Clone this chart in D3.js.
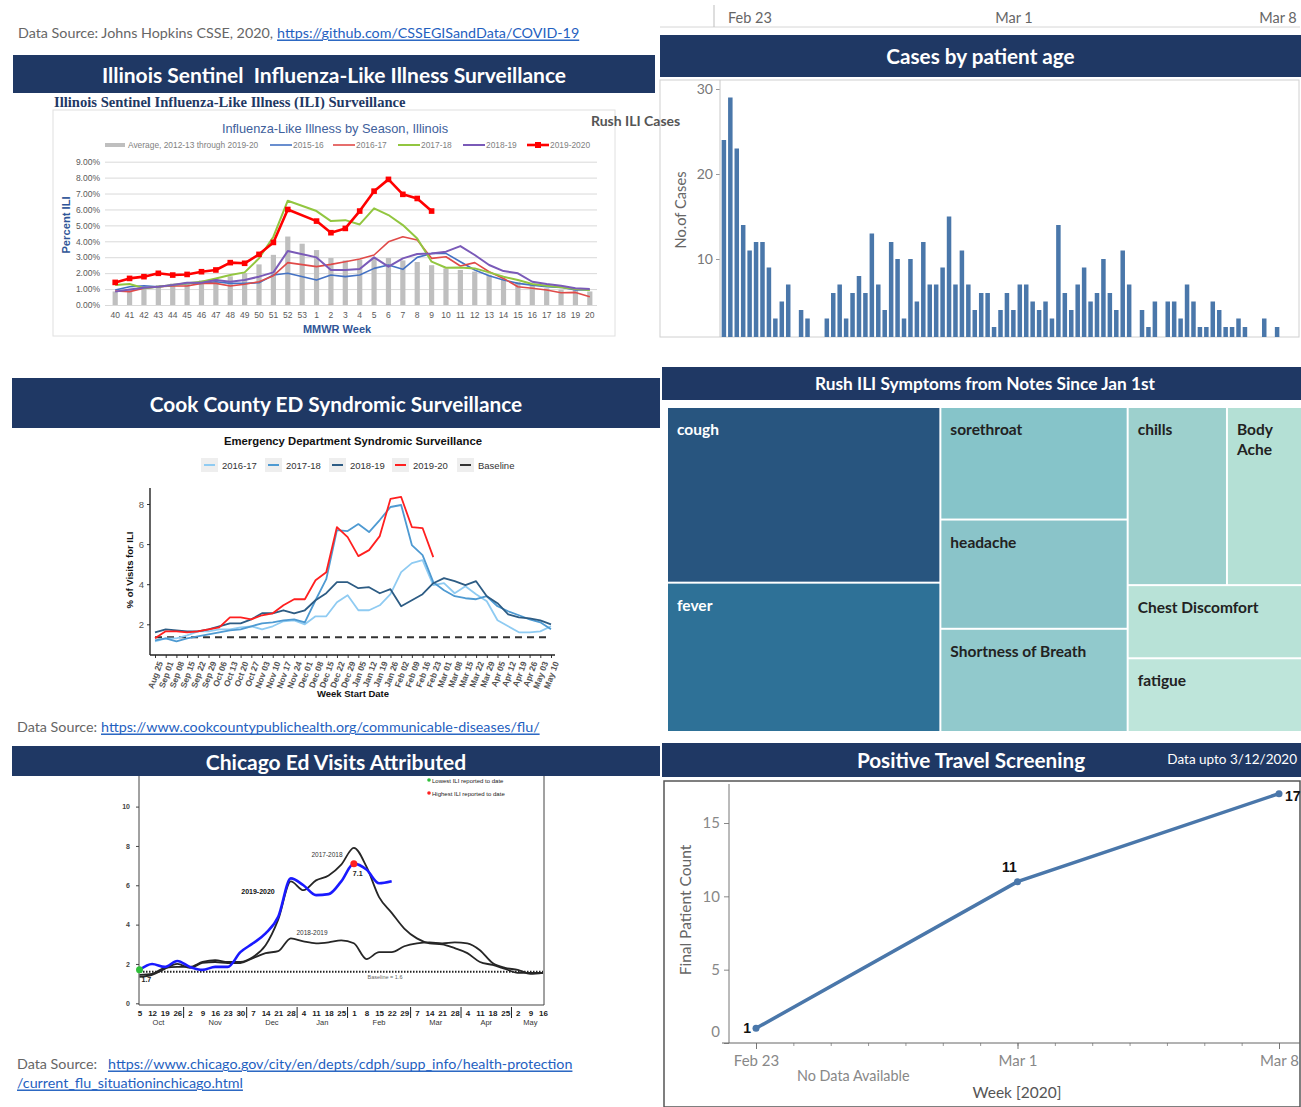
<!DOCTYPE html>
<html>
<head>
<meta charset="utf-8">
<script src="https://cdn.jsdelivr.net/npm/d3@7"></script>
<style>
  body { margin: 0; background: #fff; }
  svg { display: block; font-family: Lato, "Open Sans", sans-serif; }
</style>
</head>
<body>
<div id="dash"></div>
<script>
// ---- Illinois sentinel ILI (percent) by MMWR week ----
const iliWeeks = ["40","41","42","43","44","45","46","47","48","49","50","51","52","53",
  "1","2","3","4","5","6","7","8","9","10","11","12","13","14","15","16","17","18","19","20"];
const iliAverage = [0.85,0.95,1.15,1.25,1.35,1.45,1.55,1.65,1.8,2.0,2.55,3.15,4.3,3.85,
  3.45,2.95,2.8,2.85,2.9,2.95,2.8,2.7,2.5,2.3,2.2,2.1,1.9,1.65,1.45,1.25,1.05,0.95,0.95,0.85];
const ili1516 = [0.94,1.15,1.21,1.15,1.25,1.36,1.36,1.46,1.36,1.36,1.4,1.88,1.99,null,
  1.57,1.88,1.78,1.88,2.3,2.51,2.24,2.99,3.24,3.24,2.72,2.2,1.84,1.57,1.36,1.25,1.15,1.11,0.94,0.94];
const ili1617 = [0.88,0.84,1.05,1.15,1.19,1.19,1.36,1.36,1.19,1.3,1.46,1.84,2.66,null,
  2.41,2.55,2.72,2.89,3.14,3.97,4.29,4.08,2.93,3.03,2.45,2.66,2.09,1.67,1.15,1.05,0.94,0.77,0.79,0.52];
const ili1718 = [1.25,1.32,1.05,1.15,1.25,1.36,1.46,1.67,1.88,2.05,2.93,4.29,6.55,null,
  5.9,5.27,5.33,5.06,6.07,5.65,5.02,4.18,2.72,2.34,2.36,2.3,2.05,1.78,1.57,1.32,1.21,1.11,1.0,0.94];
const ili1819 = [0.84,0.98,1.09,1.15,1.25,1.4,1.4,1.57,1.46,1.57,1.78,2.05,3.39,null,
  2.99,2.2,2.2,2.26,2.99,2.41,2.93,3.2,3.24,3.35,3.7,3.14,2.51,2.13,1.99,1.46,1.32,1.21,1.05,1.0];
const ili1920 = [1.42,1.67,1.78,1.99,1.88,1.92,2.09,2.2,2.66,2.62,3.18,3.93,6.0,null,
  5.27,4.54,4.81,5.9,7.15,7.89,6.95,6.69,5.9,null,null,null,null,null,null,null,null,null,null,null];

// ---- Rush ILI cases by patient age ----
const rushCases = [24,29,23,14,11,12,12,9,3,5,7,0,4,3,0,0,3,6,7,3,6,8,6,13,7,4,12,10,3,10,5,12,7,7,9,15,7,11,7,4,6,
  6,2,4,6,4,7,7,5,4,5,3,14,6,4,7,9,5,6,10,6,4,11,7,0,4,2,5,0,5,5,3,7,5,2,2,5,4,2,2,3,2,0,0,3,0,2];
const rushTicks = [0, 10, 20, 30];
const stripDates = ["2020-02-23", "2020-03-01", "2020-03-08"];

// ---- Cook County ED syndromic surveillance (% of visits for ILI) ----
const edWeeks = ["Aug 25","Sep 01","Sep 08","Sep 15","Sep 22","Sep 29","Oct 06","Oct 13","Oct 20","Oct 27",
  "Nov 03","Nov 10","Nov 17","Nov 24","Dec 01","Dec 08","Dec 15","Dec 22","Dec 29","Jan 05","Jan 12",
  "Jan 19","Jan 26","Feb 02","Feb 09","Feb 16","Feb 23","Mar 01","Mar 08","Mar 15","Mar 22","Mar 29",
  "Apr 05","Apr 12","Apr 19","Apr 26","May 03","May 10"];
const ed1617 = [1.15,1.3,1.3,1.45,1.65,1.65,1.75,1.75,1.85,1.9,1.75,1.9,2.15,2.2,2.0,2.4,2.4,3.1,3.45,2.7,2.7,
  2.95,3.5,4.6,5.05,5.2,3.95,4.05,3.55,3.9,3.5,3.15,2.2,1.9,1.6,1.6,1.65,1.9];
const ed1718 = [1.2,1.3,1.15,1.3,1.4,1.5,1.6,1.7,1.75,1.9,2.05,2.1,2.2,2.25,2.1,3.2,4.25,6.7,6.65,7.0,6.6,
  7.2,7.85,7.95,5.95,5.45,4.1,3.7,3.4,3.3,3.25,3.4,2.9,2.65,2.45,2.25,2.1,1.75];
const ed1819 = [1.6,1.75,1.7,1.65,1.65,1.75,1.9,2.05,2.05,2.25,2.55,2.55,2.7,2.55,2.7,3.2,3.55,4.1,4.1,3.8,3.85,
  3.55,3.75,2.9,3.2,3.5,4.05,4.3,4.15,3.95,4.15,3.4,3.05,2.5,2.35,2.3,2.2,2.0];
const ed1920 = [1.3,1.65,1.65,1.6,1.65,1.75,1.85,2.35,2.35,2.25,2.45,2.55,2.95,3.25,3.25,4.2,4.6,6.85,6.35,5.4,5.7,
  6.4,8.25,8.35,6.85,6.8,5.35];
const edBaseline = 1.35;
const edTicks = [2, 4, 6, 8];

// ---- Chicago ED visits attributed to ILI ----
const chiDays = [5,12,19,26,2,9,16,23,30,7,14,21,28,4,11,18,25,1,8,15,22,29,7,14,21,28,4,11,18,25,2,9,16];
const chiMonths = ["Oct","Nov","Dec","Jan","Feb","Mar","Apr","May"];
const chiWeeksPerMonth = [4,5,4,4,5,4,4,3];
const chi1718 = [1.45,1.5,1.8,1.85,1.85,2.1,2.2,2.1,2.1,2.35,2.95,4.25,6.2,5.75,6.25,6.5,7.05,7.9,6.95,5.4,4.6,
  3.8,3.3,3.05,3.0,2.8,2.55,2.1,1.95,1.75,1.55,1.55,1.55];
const chi1819 = [1.35,1.45,1.75,2.0,1.8,2.05,2.1,2.05,2.05,2.3,2.55,2.65,3.3,3.15,3.05,3.1,3.2,3.05,2.25,2.6,2.6,
  2.9,3.05,3.1,3.05,3.1,3.05,2.7,2.05,1.8,1.7,1.5,1.55];
const chi1920 = [1.7,2.0,1.85,2.15,1.85,1.7,1.85,1.85,2.6,3.05,3.55,4.4,6.35,6.0,5.5,5.55,6.2,7.1,6.8,6.1,6.2];
const chiBaseline = 1.6;
const chiTicks = [0, 2, 4, 6, 8, 10];

// ---- Rush ILI symptoms ----
const symptomNames = ["cough","fever","sorethroat","headache","Shortness of Breath","chills","Body Ache","Chest Discomfort","fatigue"];
const symptomCounts = [467, 397, 205, 199, 188, 172, 130, 124, 125];
const symptomGroups = [["cough","fever"], ["sorethroat","headache","Shortness of Breath"], [["chills","Body Ache"],"Chest Discomfort","fatigue"]];

// ---- Positive travel screening ----
const travelWeeks = ["2020-02-23", "2020-03-01", "2020-03-08"];
const travelCounts = [1, 11, 17];
const travelTicks = [0, 5, 10, 15];

const NAVY = '#1f3864';
const W = 1301, H = 1107;
const parseDay = d3.timeParse('%Y-%m-%d');

const svg = d3.select('#dash').append('svg').attr('width', W).attr('height', H);
svg.append('rect').attr('width', W).attr('height', H).attr('fill', '#fff');

function header(x, y, w, h, label, size, cx) {
    svg.append('rect').attr('x', x).attr('y', y).attr('width', w).attr('height', h).attr('fill', NAVY);
    svg.append('text')
        .attr('x', cx || x + w / 2)
        .attr('y', y + h / 2)
        .attr('text-anchor', 'middle')
        .attr('dominant-baseline', 'central')
        .attr('fill', '#fff')
        .style('white-space', 'pre')
        .style('font-weight', 700)
        .style('font-size', size + 'px')
        .text(label);
}

// prefix text, then the underlined link; link starts at linkX or right after the prefix
function source(x, y, prefix, link, linkX) {
    let lx = linkX;
    if (prefix) {
        const t = svg.append('text').attr('x', x).attr('y', y).attr('dominant-baseline', 'central')
            .attr('fill', '#666').style('font-size', '14.3px').text(prefix);
        if (lx == null) lx = x + t.node().getComputedTextLength() + 4;
    }
    svg.append('text').attr('x', lx).attr('y', y).attr('dominant-baseline', 'central')
        .attr('fill', '#1f5fbf').style('font-size', '14.3px').style('text-decoration', 'underline').text(link);
}

function cleanAxis(g) {
    g.attr('font-family', null).attr('font-size', null);
}

// ================= top-left: Illinois Sentinel =================
source(18, 32, 'Data Source: Johns Hopkins CSSE, 2020,', 'https://github.com/CSSEGISandData/COVID-19', null);
header(13, 55, 642, 38, 'Illinois Sentinel  Influenza-Like Illness Surveillance', 21);

svg.append('text').attr('x', 54).attr('y', 102).attr('dominant-baseline', 'central')
    .attr('fill', NAVY).style('font-family', '"Liberation Serif", serif').style('font-weight', 700)
    .style('font-size', '14.6px').text('Illinois Sentinel Influenza-Like Illness (ILI) Surveillance');

const ili = svg.append('g').style('font-family', '"Liberation Sans", Arial, sans-serif');
ili.append('rect').attr('x', 53).attr('y', 110).attr('width', 562).attr('height', 226)
    .attr('fill', '#fff').attr('stroke', '#e0e0e0');

const iliX = d3.scaleBand().domain(iliWeeks).range([108, 597]);
const iliY = d3.scaleLinear().domain([0, 9]).range([305, 161.7]);
const iliMid = w => iliX(w) + iliX.bandwidth() / 2;

ili.append('g').attr('transform', 'translate(105,0)')
    .call(d3.axisLeft(iliY).tickValues(d3.range(0, 10)).tickSize(-492).tickPadding(5).tickFormat(d => d.toFixed(2) + '%'))
    .call(cleanAxis)
    .call(g => g.select('.domain').remove())
    .call(g => g.selectAll('line').attr('stroke', '#d9d9d9'))
    .call(g => g.selectAll('text').attr('fill', '#595959').style('font-size', '8.5px'));

ili.append('g').attr('transform', 'translate(0,305)')
    .call(d3.axisBottom(iliX).tickSize(0).tickPadding(7))
    .call(cleanAxis)
    .call(g => g.select('.domain').remove())
    .call(g => g.selectAll('text').attr('fill', '#595959').style('font-size', '8.5px'));

ili.selectAll('.avg-bar')
    .data(iliWeeks.map((w, i) => ({w: w, v: iliAverage[i]})))
    .join('rect')
    .attr('class', 'avg-bar')
    .attr('x', d => iliMid(d.w) - 2.6)
    .attr('width', 5.2)
    .attr('y', d => iliY(d.v))
    .attr('height', d => iliY(0) - iliY(d.v))
    .attr('fill', '#bfbfbf');

const iliSeries = [
    {name: '2015-16', values: ili1516, color: '#4472c4', width: 1.6},
    {name: '2016-17', values: ili1617, color: '#e04a48', width: 1.6},
    {name: '2017-18', values: ili1718, color: '#92c640', width: 2},
    {name: '2018-19', values: ili1819, color: '#7a5ab8', width: 2},
    {name: '2019-2020', values: ili1920, color: '#ff0000', width: 2.6, marker: true}
];
const iliLine = d3.line().x(d => iliMid(d.w)).y(d => iliY(d.v));

iliSeries.forEach(s => {
    const pts = iliWeeks.map((w, i) => ({w: w, v: s.values[i]})).filter(d => d.v != null);
    ili.append('path').datum(pts).attr('d', iliLine)
        .attr('fill', 'none').attr('stroke', s.color).attr('stroke-width', s.width).attr('stroke-linejoin', 'round');
    if (s.marker) {
        ili.selectAll(null).data(pts).join('rect')
            .attr('x', d => iliMid(d.w) - 2.8).attr('y', d => iliY(d.v) - 2.8)
            .attr('width', 5.6).attr('height', 5.6).attr('fill', s.color);
    }
});

ili.append('text').attr('x', 335).attr('y', 128).attr('text-anchor', 'middle').attr('dominant-baseline', 'central')
    .attr('fill', '#40609c').style('font-size', '12.8px').text('Influenza-Like Illness by Season, Illinois');

// legend
const iliLegend = [
    {label: 'Average, 2012-13 through 2019-20', x: 105, bar: true},
    {label: '2015-16', x: 270, s: iliSeries[0]},
    {label: '2016-17', x: 333, s: iliSeries[1]},
    {label: '2017-18', x: 398, s: iliSeries[2]},
    {label: '2018-19', x: 463, s: iliSeries[3]},
    {label: '2019-2020', x: 527, s: iliSeries[4]}
];
iliLegend.forEach(d => {
    if (d.bar) {
        ili.append('rect').attr('x', d.x).attr('y', 143).attr('width', 20).attr('height', 4).attr('fill', '#bfbfbf');
    } else {
        ili.append('line').attr('x1', d.x).attr('x2', d.x + 22).attr('y1', 145).attr('y2', 145)
            .attr('stroke', d.s.color).attr('stroke-width', d.s.width);
        if (d.s.marker) {
            ili.append('rect').attr('x', d.x + 8).attr('y', 142).attr('width', 6).attr('height', 6).attr('fill', d.s.color);
        }
    }
    ili.append('text').attr('x', d.x + 23).attr('y', 145).attr('dominant-baseline', 'central')
        .attr('fill', '#7f7f7f').style('font-size', '8.4px').text(d.label);
});

ili.append('text').attr('transform', 'translate(66,225) rotate(-90)').attr('text-anchor', 'middle')
    .attr('dominant-baseline', 'central').attr('fill', '#2f5597').style('font-weight', 700)
    .style('font-size', '11.2px').text('Percent ILI');
ili.append('text').attr('x', 337).attr('y', 329).attr('text-anchor', 'middle').attr('dominant-baseline', 'central')
    .attr('fill', '#2f5597').style('font-weight', 700).style('font-size', '11px').text('MMWR Week');

// ================= top-right: cases by patient age =================
const strip = svg.append('g');
strip.append('line').attr('x1', 660).attr('x2', 1300).attr('y1', 27).attr('y2', 27).attr('stroke', '#d6d6d6');
strip.append('line').attr('x1', 714).attr('x2', 714).attr('y1', 5).attr('y2', 27).attr('stroke', '#bdbdbd');
const stripX = d3.scaleTime().domain([parseDay(stripDates[0]), parseDay(stripDates[2])]).range([750, 1278]);
strip.selectAll('text').data(stripDates).join('text')
    .attr('x', d => stripX(parseDay(d)))
    .attr('y', 17)
    .attr('text-anchor', 'middle')
    .attr('dominant-baseline', 'central')
    .attr('fill', '#666')
    .style('font-size', '14.5px')
    .text(d => d3.timeFormat('%b %-d')(parseDay(d)));

header(660, 35, 641, 42, 'Cases by patient age', 20.7);

const rush = svg.append('g');
rush.append('rect').attr('x', 660).attr('y', 80).attr('width', 639).attr('height', 257)
    .attr('fill', '#fff').attr('stroke', '#d0d0d0');
svg.append('defs').append('clipPath').attr('id', 'rush-clip')
    .append('rect').attr('x', 660).attr('y', 80).attr('width', 640).attr('height', 257);
const rushBody = rush.append('g').attr('clip-path', 'url(#rush-clip)');

const rushX = d3.scaleBand().domain(d3.range(rushCases.length)).range([721, 1280]).paddingInner(0.3).paddingOuter(0.1);
const rushY = d3.scaleLinear().domain([0, 30]).range([344, 89]);

rushBody.append('g').attr('transform', 'translate(720,0)')
    .call(d3.axisLeft(rushY).tickValues(rushTicks).tickSize(4).tickPadding(3))
    .call(cleanAxis)
    .call(g => g.select('.domain').remove())
    .call(g => g.selectAll('line').attr('stroke', '#999'))
    .call(g => g.selectAll('text').attr('fill', '#777').style('font-size', '14px'));
rushBody.append('line').attr('x1', 720).attr('x2', 720).attr('y1', 80).attr('y2', 337).attr('stroke', '#c8c8c8');

rushBody.selectAll('.case-bar')
    .data(rushCases)
    .join('rect')
    .attr('class', 'case-bar')
    .attr('x', (d, i) => rushX(i))
    .attr('width', rushX.bandwidth())
    .attr('y', d => rushY(d))
    .attr('height', d => rushY(0) - rushY(d))
    .attr('fill', '#4a77aa');

rush.append('text').attr('transform', 'translate(680,210) rotate(-90)').attr('text-anchor', 'middle')
    .attr('dominant-baseline', 'central').attr('fill', '#666').style('font-size', '14.7px').text('No.of Cases');

svg.append('text').attr('x', 591).attr('y', 120).attr('dominant-baseline', 'central')
    .attr('fill', '#555').style('font-weight', 700).style('font-size', '14px').text('Rush ILI Cases');

// ================= middle-left: Cook County =================
header(12, 378, 648, 50, 'Cook County ED Syndromic Surveillance', 20.8);

const cook = svg.append('g').style('font-family', '"Liberation Sans", Arial, sans-serif');
const edX = d3.scalePoint().domain(edWeeks).range([155, 551]);
const edY = d3.scaleLinear().domain([2, 8]).range([624.3, 504]);

cook.append('text').attr('x', 353).attr('y', 441).attr('text-anchor', 'middle').attr('dominant-baseline', 'central')
    .attr('fill', '#111').style('font-weight', 700).style('font-size', '11.3px').text('Emergency Department Syndromic Surveillance');

const edSeries = [
    {name: '2016-17', values: ed1617, color: '#8fcbf2'},
    {name: '2017-18', values: ed1718, color: '#4e9ad2'},
    {name: '2018-19', values: ed1819, color: '#2d5c84'},
    {name: '2019-20', values: ed1920, color: '#ff1f1f'}
];

cook.append('g').attr('transform', 'translate(150,0)')
    .call(d3.axisLeft(edY).tickValues(edTicks).tickSize(3).tickPadding(3).tickFormat(d3.format('d')))
    .call(cleanAxis)
    .call(g => g.select('.domain').remove())
    .call(g => g.selectAll('line').attr('stroke', '#333'))
    .call(g => g.selectAll('text').attr('fill', '#555').style('font-size', '9.5px'));

cook.append('g').attr('transform', 'translate(0,655)')
    .call(d3.axisBottom(edX).tickSize(3).tickPadding(2))
    .call(cleanAxis)
    .call(g => g.select('.domain').remove())
    .call(g => g.selectAll('line').attr('stroke', '#333'))
    .call(g => g.selectAll('text')
        .attr('fill', '#555').style('font-size', '8.5px').style('font-weight', 700)
        .attr('text-anchor', 'end').attr('dy', '0.35em')
        .attr('transform', 'translate(0,5) rotate(-70)'));

cook.append('line').attr('x1', 150).attr('x2', 150).attr('y1', 488).attr('y2', 655).attr('stroke', '#222').attr('stroke-width', 1.4);
cook.append('line').attr('x1', 150).attr('x2', 555).attr('y1', 655).attr('y2', 655).attr('stroke', '#222').attr('stroke-width', 1.4);

cook.append('line').attr('x1', edX(edWeeks[0])).attr('x2', edX(edWeeks[edWeeks.length - 1]))
    .attr('y1', edY(edBaseline)).attr('y2', edY(edBaseline))
    .attr('stroke', '#333').attr('stroke-width', 2).attr('stroke-dasharray', '7,5');

const edLine = d3.line().x(d => edX(d.w)).y(d => edY(d.v));
edSeries.forEach(s => {
    cook.append('path').datum(s.values.map((v, i) => ({w: edWeeks[i], v: v})))
        .attr('d', edLine).attr('fill', 'none').attr('stroke', s.color).attr('stroke-width', 1.8)
        .attr('stroke-linejoin', 'round');
});

const edLegend = edSeries.map(s => ({label: s.name, color: s.color}))
    .concat([{label: 'Baseline', color: '#333'}]);
const edLegendX = [202, 266, 330, 393, 458];
edLegend.forEach((d, i) => {
    const x = edLegendX[i];
    cook.append('rect').attr('x', x - 1).attr('y', 458).attr('width', 17).attr('height', 14).attr('fill', '#eeeeee');
    cook.append('line').attr('x1', x + 2).attr('x2', x + 13).attr('y1', 465).attr('y2', 465)
        .attr('stroke', d.color).attr('stroke-width', 2);
    cook.append('text').attr('x', x + 20).attr('y', 465).attr('dominant-baseline', 'central')
        .attr('fill', '#333').style('font-size', '9.5px').text(d.label);
});

cook.append('text').attr('transform', 'translate(129,570) rotate(-90)').attr('text-anchor', 'middle')
    .attr('dominant-baseline', 'central').attr('fill', '#111').style('font-weight', 700)
    .style('font-size', '9.5px').text('% of Visits for ILI');
cook.append('text').attr('x', 353).attr('y', 693).attr('text-anchor', 'middle').attr('dominant-baseline', 'central')
    .attr('fill', '#111').style('font-weight', 700).style('font-size', '9.5px').text('Week Start Date');

source(17, 726, 'Data Source: ', 'https://www.cookcountypublichealth.org/communicable-diseases/flu/', 101);

// ================= bottom-left: Chicago =================
header(12, 746, 648, 30, 'Chicago Ed Visits Attributed', 21);

const chi = svg.append('g').style('font-family', '"Liberation Sans", Arial, sans-serif');
const chiX = d3.scalePoint().domain(d3.range(chiDays.length)).range([139.5, 543]);
const chiY = d3.scaleLinear().domain([0, 10]).range([1003.3, 806.6]);

chi.append('line').attr('x1', 139).attr('x2', 139).attr('y1', 776).attr('y2', 1005).attr('stroke', '#444');
chi.append('line').attr('x1', 544).attr('x2', 544).attr('y1', 776).attr('y2', 1005).attr('stroke', '#444');
chi.append('line').attr('x1', 139).attr('x2', 544).attr('y1', 1005).attr('y2', 1005).attr('stroke', '#444');

chi.append('g').attr('transform', 'translate(139,0)')
    .call(d3.axisLeft(chiY).tickValues(chiTicks).tickSize(3).tickPadding(6))
    .call(cleanAxis)
    .call(g => g.select('.domain').remove())
    .call(g => g.selectAll('line').attr('stroke', '#444'))
    .call(g => g.selectAll('text').attr('fill', '#444').style('font-size', '7px').style('font-weight', 700));

chi.append('g').attr('transform', 'translate(0,1005)')
    .call(d3.axisBottom(chiX).tickSize(0).tickPadding(5).tickFormat(i => chiDays[i]))
    .call(cleanAxis)
    .call(g => g.select('.domain').remove())
    .call(g => g.selectAll('text').attr('fill', '#222').style('font-size', '8px').style('font-weight', 700));

let startIdx = 0;
chiMonths.forEach((m, k) => {
    const n = chiWeeksPerMonth[k];
    const cx = (chiX(startIdx) + chiX(startIdx + n - 1)) / 2;
    chi.append('text').attr('x', cx).attr('y', 1022).attr('text-anchor', 'middle').attr('dominant-baseline', 'central')
        .attr('fill', '#333').style('font-size', '7.5px').text(m);
    if (k > 0) {
        const sx = (chiX(startIdx - 1) + chiX(startIdx)) / 2;
        chi.append('line').attr('x1', sx).attr('x2', sx).attr('y1', 1007).attr('y2', 1018).attr('stroke', '#222');
    }
    startIdx += n;
});

chi.append('line').attr('x1', 140).attr('x2', 543).attr('y1', chiY(chiBaseline)).attr('y2', chiY(chiBaseline))
    .attr('stroke', '#222').attr('stroke-width', 2).attr('stroke-dasharray', '1.5,1.5');
chi.append('text').attr('x', 385).attr('y', chiY(chiBaseline) + 7).attr('text-anchor', 'middle')
    .attr('fill', '#666').style('font-size', '5.5px').text('Baseline = 1.6');

const chiLine = d3.line().x(d => chiX(d.i)).y(d => chiY(d.v)).curve(d3.curveMonotoneX);
[{values: chi1718, color: '#262626', width: 1.8},
 {values: chi1819, color: '#262626', width: 1.8},
 {values: chi1920, color: '#1a1aff', width: 2.6}].forEach(s => {
    chi.append('path').datum(s.values.map((v, i) => ({i: i, v: v})))
        .attr('d', chiLine).attr('fill', 'none').attr('stroke', s.color).attr('stroke-width', s.width);
});

const lowIdx = d3.minIndex(chi1920);
const highIdx = d3.maxIndex(chi1920);
chi.append('circle').attr('cx', chiX(lowIdx)).attr('cy', chiY(chi1920[lowIdx])).attr('r', 3.5).attr('fill', '#2fbf3a');
chi.append('circle').attr('cx', chiX(highIdx)).attr('cy', chiY(chi1920[highIdx])).attr('r', 3.5).attr('fill', '#ff2020');
chi.append('text').attr('x', chiX(lowIdx) + 2).attr('y', chiY(chi1920[lowIdx]) + 12).attr('fill', '#222')
    .style('font-size', '7px').style('font-weight', 700).text(chi1920[lowIdx].toFixed(1));
chi.append('text').attr('x', chiX(highIdx) - 1).attr('y', chiY(chi1920[highIdx]) + 12).attr('fill', '#222')
    .style('font-size', '7px').style('font-weight', 700).text(chi1920[highIdx].toFixed(1));

chi.append('text').attr('x', 327).attr('y', 857).attr('text-anchor', 'middle').attr('fill', '#333')
    .style('font-size', '6.5px').text('2017-2018');
chi.append('text').attr('x', 258).attr('y', 894).attr('text-anchor', 'middle').attr('fill', '#111')
    .style('font-size', '7px').style('font-weight', 700).text('2019-2020');
chi.append('text').attr('x', 312).attr('y', 935).attr('text-anchor', 'middle').attr('fill', '#333')
    .style('font-size', '6.5px').text('2018-2019');

chi.append('circle').attr('cx', 429).attr('cy', 780).attr('r', 1.8).attr('fill', '#2fbf3a');
chi.append('text').attr('x', 432).attr('y', 783).attr('fill', '#222').style('font-size', '6px').text('Lowest ILI reported to date');
chi.append('circle').attr('cx', 429).attr('cy', 793).attr('r', 1.8).attr('fill', '#ff2020');
chi.append('text').attr('x', 432).attr('y', 796).attr('fill', '#222').style('font-size', '6px').text('Highest ILI reported to date');

source(17, 1063, 'Data Source:', 'https://www.chicago.gov/city/en/depts/cdph/supp_info/health-protection', 108);
source(17, 1082, null, '/current_flu_situationinchicago.html', 17);

// ================= middle-right: symptom treemap =================
header(662, 367, 639, 33, 'Rush ILI Symptoms from Notes Since Jan 1st', 17.3, 985);

const symptomColors = {
    'cough': '#28557f', 'fever': '#2e7197', 'sorethroat': '#86c4c9', 'headache': '#8ac4c9',
    'Shortness of Breath': '#91c9cc', 'chills': '#9dd0cd', 'Body Ache': '#b4e0d5',
    'Chest Discomfort': '#b8e2d7', 'fatigue': '#bee5da'
};
const countOf = name => symptomCounts[symptomNames.indexOf(name)];
const toNode = item => Array.isArray(item)
    ? {name: 'group', children: item.map(toNode)}
    : {name: item, value: countOf(item)};

const symptomRoot = d3.hierarchy({name: 'root', children: symptomGroups.map(toNode)}).sum(d => d.value || 0);
d3.treemap()
    .size([633, 323])
    .paddingInner(2)
    .tile((node, x0, y0, x1, y1) => node.depth % 2 === 0
        ? d3.treemapDice(node, x0, y0, x1, y1)
        : d3.treemapSlice(node, x0, y0, x1, y1))(symptomRoot);

const tree = svg.append('g').attr('transform', 'translate(668,408)');
const leaves = tree.selectAll('g').data(symptomRoot.leaves()).join('g')
    .attr('transform', d => `translate(${d.x0},${d.y0})`);
leaves.append('rect')
    .attr('width', d => d.x1 - d.x0)
    .attr('height', d => d.y1 - d.y0)
    .attr('fill', d => symptomColors[d.data.name]);
leaves.each(function(d) {
    const words = (d.x1 - d.x0) < 90 ? d.data.name.split(' ') : [d.data.name];
    const dark = d.data.name === 'cough' || d.data.name === 'fever';
    d3.select(this).append('text')
        .attr('fill', dark ? '#fff' : '#222')
        .style('font-weight', 700)
        .style('font-size', '15.5px')
        .selectAll('tspan').data(words).join('tspan')
        .attr('x', 9)
        .attr('y', (w, i) => 21 + i * 20)
        .attr('dominant-baseline', 'central')
        .text(w => w);
});

// ================= bottom-right: positive travel screening =================
header(662, 743, 639, 34, 'Positive Travel Screening', 20.7, 971);
svg.append('text').attr('x', 1297).attr('y', 759).attr('text-anchor', 'end').attr('dominant-baseline', 'central')
    .attr('fill', '#fff').style('font-size', '13.5px').text('Data upto 3/12/2020');

const travel = svg.append('g');
travel.append('rect').attr('x', 664).attr('y', 781).attr('width', 636).attr('height', 326)
    .attr('fill', '#fff').attr('stroke', '#555').attr('stroke-width', 1.5);

const travelX = d3.scaleTime().domain([parseDay(travelWeeks[0]), parseDay(travelWeeks[2])]).range([756, 1279]);
const travelY = d3.scaleLinear().domain([0, 15]).range([1043, 823]);

travel.append('g').attr('transform', 'translate(729,0)')
    .call(d3.axisLeft(travelY).tickValues(travelTicks).tickSize(5).tickPadding(4))
    .call(cleanAxis)
    .call(g => g.select('.domain').remove())
    .call(g => g.selectAll('line').attr('stroke', '#888'))
    .call(g => g.selectAll('text').attr('fill', '#888').style('font-size', '15px'))
    .call(g => g.selectAll('.tick').filter(d => d === 0).select('text').attr('dy', '-0.45em'));
travel.append('line').attr('x1', 729).attr('x2', 729).attr('y1', 784).attr('y2', 1043).attr('stroke', '#777');

travel.append('g').attr('transform', 'translate(0,1043)')
    .call(d3.axisBottom(travelX).ticks(d3.timeDay.every(1)).tickSize(3).tickFormat(''))
    .call(cleanAxis)
    .call(g => g.select('.domain').remove())
    .call(g => g.selectAll('line').attr('stroke', '#999'));
travel.append('g').attr('transform', 'translate(0,1043)')
    .call(d3.axisBottom(travelX).tickValues(travelWeeks.map(parseDay)).tickSize(6).tickPadding(6)
        .tickFormat(d3.timeFormat('%b %-d')))
    .call(cleanAxis)
    .call(g => g.select('.domain').remove())
    .call(g => g.selectAll('line').attr('stroke', '#777'))
    .call(g => g.selectAll('text').attr('fill', '#888').style('font-size', '15px'));
travel.append('line').attr('x1', 722).attr('x2', 1300).attr('y1', 1043).attr('y2', 1043).attr('stroke', '#666');

const travelPts = travelWeeks.map((w, i) => ({t: parseDay(w), v: travelCounts[i]}));
travel.append('path').datum(travelPts)
    .attr('d', d3.line().x(d => travelX(d.t)).y(d => travelY(d.v)))
    .attr('fill', 'none').attr('stroke', '#4a77aa').attr('stroke-width', 3.5);
travel.selectAll('circle').data(travelPts).join('circle')
    .attr('cx', d => travelX(d.t)).attr('cy', d => travelY(d.v)).attr('r', 3.5).attr('fill', '#4a77aa');

const labelPos = [
    {dx: -5, dy: 0, anchor: 'end'},
    {dx: -8, dy: -15, anchor: 'middle'},
    {dx: 6, dy: 2, anchor: 'start'}
];
travel.selectAll('.pt-label').data(travelPts).join('text')
    .attr('class', 'pt-label')
    .attr('x', (d, i) => travelX(d.t) + labelPos[i].dx)
    .attr('y', (d, i) => travelY(d.v) + labelPos[i].dy)
    .attr('text-anchor', (d, i) => labelPos[i].anchor)
    .attr('dominant-baseline', 'central')
    .attr('fill', '#111')
    .style('font-family', '"Liberation Sans", Arial, sans-serif')
    .style('font-weight', 700)
    .style('font-size', '14px')
    .text(d => d.v);

travel.append('text').attr('transform', 'translate(685,910) rotate(-90)').attr('text-anchor', 'middle')
    .attr('dominant-baseline', 'central').attr('fill', '#666').style('font-size', '15.5px').text('Final Patient Count');
travel.append('text').attr('x', 797).attr('y', 1075).attr('dominant-baseline', 'central')
    .attr('fill', '#888').style('font-size', '14.4px').text('No Data Available');
travel.append('text').attr('x', 1017).attr('y', 1092).attr('text-anchor', 'middle').attr('dominant-baseline', 'central')
    .attr('fill', '#555').style('font-size', '15.5px').text('Week [2020]');
</script>
</body>
</html>
